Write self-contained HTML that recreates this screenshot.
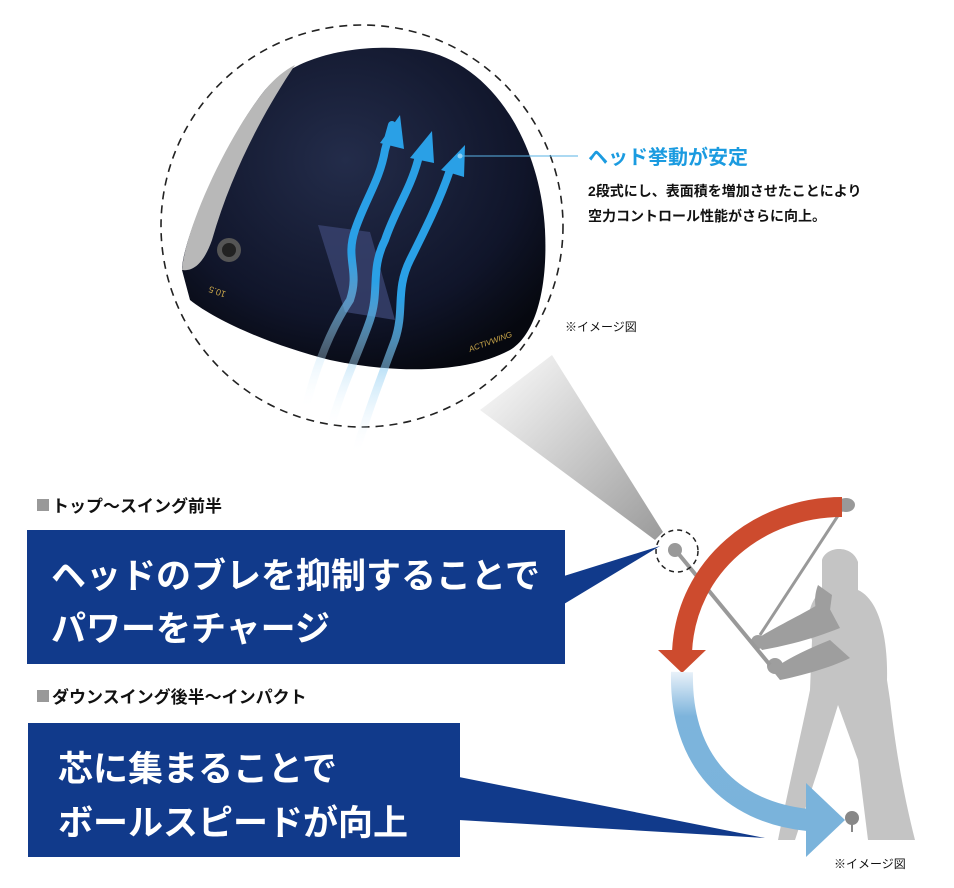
<!DOCTYPE html>
<html><head><meta charset="utf-8"><style>
html,body{margin:0;padding:0;background:#fff;}
svg{display:block;}
text{font-family:"Liberation Sans","Noto Sans CJK JP",sans-serif;}
</style></head><body>
<svg width="954" height="888" viewBox="0 0 954 888" xmlns="http://www.w3.org/2000/svg">
<defs>
<linearGradient id="cone" x1="0" y1="0" x2="1" y2="1">
<stop offset="0" stop-color="#fff"/><stop offset="1" stop-color="#9a9a9a"/></linearGradient>
<radialGradient id="head" cx="0.45" cy="0.35" r="0.7">
<stop offset="0" stop-color="#232c4a"/><stop offset="0.7" stop-color="#10152a"/><stop offset="1" stop-color="#06080f"/></radialGradient>
<linearGradient id="blueArc" gradientUnits="userSpaceOnUse" x1="0" y1="672" x2="0" y2="820">
<stop offset="0" stop-color="#e8f1f9"/><stop offset="0.3" stop-color="#7db4dc"/><stop offset="1" stop-color="#7ab3db"/></linearGradient>
<linearGradient id="tail" x1="0" y1="1" x2="0" y2="0">
<stop offset="0" stop-color="#fff" stop-opacity="0"/><stop offset="0.55" stop-color="#2aa0e6"/></linearGradient>
</defs>

<polygon points="480,410 552,355 663,532 655,540" fill="url(#cone)"/>
<circle cx="362" cy="226" r="201" fill="none" stroke="#222" stroke-width="1.6" stroke-dasharray="8,6"/>

<path d="M182,270 C182,240 225,140 265,90 C295,55 360,42 420,50 C490,62 540,140 545,230 C548,290 535,335 510,350 C470,372 400,375 330,360 C270,345 215,320 190,300 Z" fill="url(#head)"/>
<path d="M182,270 C185,230 225,140 265,90 C275,78 285,70 295,65 C265,110 232,170 212,240 C205,260 195,272 182,270Z" fill="#b8b8b8"/>
<circle cx="229" cy="250" r="12" fill="#555"/><circle cx="229" cy="250" r="7" fill="#222"/>
<polygon points="318,225 370,232 395,320 345,312" fill="#3a4470" opacity="0.8"/>
<text x="210" y="295" fill="#c9a64a" font-size="9" transform="rotate(200 218 292)">10.5</text>
<text x="470" y="352" fill="#c9a64a" font-size="8" font-style="italic" transform="rotate(-20 470 352)">ACTIVWING</text>

<g fill="none" stroke-width="8" stroke-linecap="round">
<path d="M305,410 C315,370 330,330 350,300 C360,270 345,260 355,230 C365,200 380,180 385,150 L392,125" stroke="url(#tail)"/>
<path d="M330,430 C340,390 360,350 370,320 C380,290 370,270 385,240 C395,210 410,190 418,160" stroke="url(#tail)"/>
<path d="M355,455 C365,420 380,380 395,340 C405,310 395,290 410,260 C425,230 440,200 450,170" stroke="url(#tail)"/>
</g>
<g fill="#2aa0e6">
<polygon points="400,115 380,143 404,149"/>
<polygon points="432,131 410,158 434,163"/>
<polygon points="465,145 441,170 464,177"/>
</g>
<line x1="460" y1="156" x2="578" y2="156" stroke="#5ab3e6" stroke-width="1"/>
<circle cx="460" cy="156" r="2.5" fill="#8fd0f5"/>

<text x="588" y="164" fill="#1b9be0" font-size="20" font-weight="bold">ヘッド挙動が安定</text>
<text x="588" y="196" fill="#111" font-size="14" font-weight="bold">2段式にし、表面積を増加させたことにより</text>
<text x="588" y="221" fill="#111" font-size="14" font-weight="bold">空力コントロール性能がさらに向上。</text>
<text x="565" y="331" fill="#111" font-size="12">※イメージ図</text>

<rect x="37" y="499" width="12" height="12" fill="#999"/>
<text x="52" y="512" fill="#111" font-size="17" font-weight="bold">トップ〜スイング前半</text>
<rect x="37" y="690" width="12" height="12" fill="#999"/>
<text x="52" y="703" fill="#111" font-size="17" font-weight="bold">ダウンスイング後半〜インパクト</text>

<polygon points="564,576 660,546 564,604" fill="#113a8b"/>
<rect x="27" y="530" width="538" height="134" fill="#113a8b"/>
<text x="51" y="588" fill="#fff" font-size="35" font-weight="bold">ヘッドのブレを抑制することで</text>
<text x="51" y="641" fill="#fff" font-size="35" font-weight="bold">パワーをチャージ</text>
<polygon points="459,777 765,838 459,820" fill="#113a8b"/>
<rect x="28" y="723" width="432" height="134" fill="#113a8b"/>
<text x="58" y="781" fill="#fff" font-size="35" font-weight="bold">芯に集まることで</text>
<text x="58" y="835" fill="#fff" font-size="35" font-weight="bold">ボールスピードが向上</text>

<g fill="#c4c4c4">
<path d="M822,560 C826,546 852,544 858,562 L858,590 C880,600 888,640 887,680 L890,700 C897,760 905,800 915,840 L868,840 L858,760 L838,705 L818,770 L795,840 L778,840 C790,780 802,730 810,690 L812,640 C804,620 810,600 822,590 Z"/>
</g>
<g fill="#9e9e9e">
<path d="M825,600 C808,612 778,625 755,640 L762,650 C790,645 815,638 840,628 Z"/>
<path d="M830,640 C805,650 785,660 772,670 L780,680 C800,676 830,668 850,658 Z"/>
<path d="M818,585 C812,600 815,620 828,625 L832,595 Z"/>
<circle cx="775" cy="666" r="8"/>
<circle cx="758" cy="642" r="7"/>
</g>
<line x1="845" y1="505" x2="760" y2="635" stroke="#999" stroke-width="3"/>
<line x1="677" y1="552" x2="770" y2="665" stroke="#999" stroke-width="4"/>
<ellipse cx="846" cy="505" rx="9" ry="7" fill="#999"/>
<circle cx="675" cy="550" r="7" fill="#999"/>
<circle cx="677" cy="551" r="21" fill="none" stroke="#222" stroke-width="1.5" stroke-dasharray="5,4"/>

<path d="M842,507 C760,507 686,565 682,652" fill="none" stroke="#cd4b2e" stroke-width="20"/>
<polygon points="658,650 706,650 682,673" fill="#cd4b2e"/>
<path d="M682,672 C680,760 730,812 808,820" fill="none" stroke="url(#blueArc)" stroke-width="22"/>
<polygon points="806,783 845,820 806,857" fill="#7ab3db"/>
<circle cx="852" cy="818" r="7" fill="#888"/>
<rect x="851" y="818" width="2" height="14" fill="#888"/>

<text x="834" y="868" fill="#111" font-size="12">※イメージ図</text>
</svg>
</body></html>
